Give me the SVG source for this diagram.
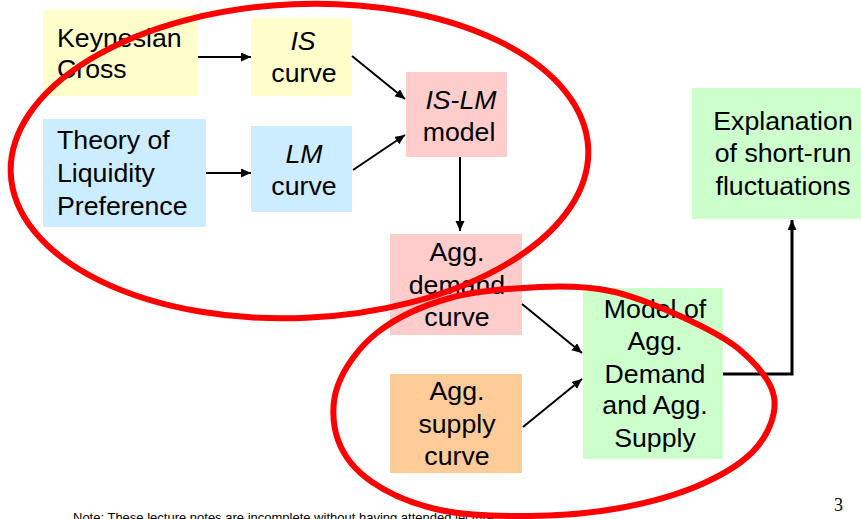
<svg xmlns="http://www.w3.org/2000/svg" width="861" height="519" viewBox="0 0 861 519">
<style>
text{font-family:"Liberation Sans",Arial,sans-serif;font-size:26.7px;fill:#000}
.c{text-anchor:middle}
.i{font-style:italic}
.conn{stroke:#000;stroke-width:2;fill:none}
.thick{stroke-width:3}
.ring{fill:none;stroke:#FF0000;stroke-width:6}
.note{font-size:13px}
.pg{font-family:"Liberation Serif","Times New Roman",serif;font-size:18px}
</style>
<defs>
<marker id="ah" markerUnits="userSpaceOnUse" markerWidth="12" markerHeight="10" refX="10" refY="4.5" orient="auto">
<path d="M0,0 L10,4.5 L0,9 z" fill="#000"/>
</marker>
</defs>
<rect width="861" height="519" fill="#fff"/>

<g id="keynesian-cross">
<rect x="43" y="10" width="155" height="86" fill="#FFFFCC"/>
<text x="57" y="47">Keynesian</text>
<text x="57" y="78">Cross</text>
</g>
<g id="is-curve">
<rect x="251" y="18" width="101" height="78" fill="#FFFFCC"/>
<text x="303" y="50" class="c i">IS</text>
<text x="304" y="82" class="c">curve</text>
</g>
<g id="liquidity-preference">
<rect x="43" y="119" width="163" height="108" fill="#CCECFF"/>
<text x="57" y="149">Theory of</text>
<text x="57" y="182">Liquidity</text>
<text x="57" y="215">Preference</text>
</g>
<g id="lm-curve">
<rect x="251" y="126" width="101" height="86" fill="#CCECFF"/>
<text x="304" y="163" class="c i">LM</text>
<text x="304" y="195" class="c">curve</text>
</g>
<g id="is-lm-model">
<rect x="406" y="72" width="101" height="85" fill="#FFCCCC"/>
<text x="461" y="109" class="c"><tspan class="i">IS</tspan>-<tspan class="i">LM</tspan></text>
<text x="459" y="141" class="c">model</text>
</g>
<g id="agg-demand">
<rect x="390" y="234" width="132" height="101" fill="#FFCCCC"/>
<text x="457" y="261" class="c">Agg.</text>
<text x="457" y="294" class="c">demand</text>
<text x="457" y="326" class="c">curve</text>
</g>
<g id="agg-supply">
<rect x="390" y="374" width="132" height="99" fill="#FFCC99"/>
<text x="457" y="400" class="c">Agg.</text>
<text x="457" y="433" class="c">supply</text>
<text x="457" y="465" class="c">curve</text>
</g>
<g id="ad-as-model">
<rect x="583" y="288" width="140" height="171" fill="#CCFFCC"/>
<text x="655" y="318" class="c">Model of</text>
<text x="655" y="350" class="c">Agg.</text>
<text x="655" y="383" class="c">Demand</text>
<text x="655" y="414" class="c">and Agg.</text>
<text x="655" y="447" class="c">Supply</text>
</g>
<g id="explanation">
<rect x="692" y="88" width="169" height="131" fill="#CCFFCC"/>
<text x="783" y="130" class="c">Explanation</text>
<text x="783" y="162" class="c">of short-run</text>
<text x="783" y="195" class="c">fluctuations</text>
</g>

<g id="connectors">
<line class="conn" x1="198" y1="57" x2="251" y2="57" marker-end="url(#ah)"/>
<line class="conn" x1="206" y1="173" x2="251" y2="173" marker-end="url(#ah)"/>
<line class="conn" x1="352" y1="56" x2="405" y2="99" marker-end="url(#ah)"/>
<line class="conn" x1="353" y1="170" x2="405" y2="135" marker-end="url(#ah)"/>
<line class="conn" x1="460" y1="157" x2="460" y2="231" marker-end="url(#ah)"/>
<line class="conn" x1="522" y1="304" x2="582" y2="353" marker-end="url(#ah)"/>
<line class="conn" x1="523" y1="427" x2="582" y2="379" marker-end="url(#ah)"/>
<polyline class="conn thick" points="723,374 792,374 792,220" marker-end="url(#ah)"/>
</g>

<text class="note" x="73" y="522">Note: These lecture notes are incomplete without having attended lecture</text>
<text class="pg" x="834" y="511">3</text>

<g id="highlights">
<ellipse class="ring" cx="299.5" cy="161" rx="289" ry="157" transform="rotate(-2.5 299.5 161)"/>
<path class="ring" d="M540,287 C566.7,285.8 586.7,286.2 610,291 C633.3,295.8 658.3,306.2 680,316 C701.7,325.8 724.3,336.5 740,350 C755.7,363.5 771.2,380.8 774,397 C776.8,413.2 769,432.5 757,447 C745,461.5 724.8,473.8 702,484 C679.2,494.2 648.7,502.7 620,508 C591.3,513.3 560,515.7 530,516 C500,516.3 466.3,515.7 440,510 C413.7,504.3 389,493.7 372,482 C355,470.3 343.7,456.2 338,440 C332.3,423.8 331.3,403 338,385 C344.7,367 359.3,346.5 378,332 C396.7,317.5 423,305.5 450,298 C477,290.5 513.3,288.2 540,287 Z"/>
</g>
</svg>
